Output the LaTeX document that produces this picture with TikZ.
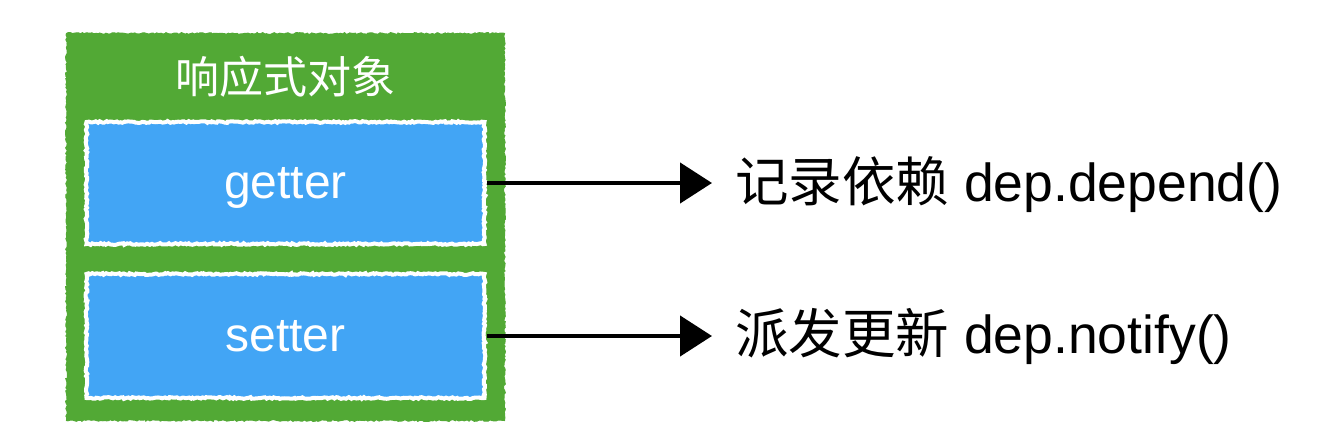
\documentclass[tikz,border=0pt]{standalone}
\usepackage{fontspec}
\setmainfont{Liberation Sans}
\newfontfamily\cjk{Noto Sans CJK SC}
\usetikzlibrary{arrows.meta,decorations.pathmorphing}
\definecolor{objgreen}{RGB}{82,169,53}
\definecolor{accblue}{RGB}{66,165,245}
\tikzset{
  rough/.style={decorate,decoration={random steps,segment length=2pt,amplitude=0.9pt}},
  objbox/.style={rough,fill=objgreen,draw=objgreen,line width=1pt,minimum width=438pt,minimum height=387pt,inner sep=0pt},
  accbox/.style={rough,fill=accblue,draw=white,line width=4pt,minimum width=398pt,minimum height=122pt,inner sep=0pt,
    text=white,text depth=0pt,font=\fontsize{48}{56}\selectfont},
  titletext/.style={text=white,font=\fontsize{44}{52}\selectfont\cjk,inner sep=0pt},
  labeltext/.style={anchor=west,inner sep=0pt,font=\fontsize{53.5}{60}\selectfont},
  conn/.style={line width=4.5pt,-{Triangle[length=32pt,width=40pt]}}
}
\begin{document}
\begin{tikzpicture}[x=1pt,y=-1pt]
\useasboundingbox (0,0) rectangle (1328,442);
\node[objbox] (obj) at (285.5,227) {};
\node[titletext] (title) at (285.5,77) {响应式对象};
\node[accbox] (getter) at (285.5,183) {getter};
\node[accbox,minimum height=124pt] (setter) at (285.5,336) {setter};
\node[labeltext] (dep1) at (735,185) {{\cjk 记录依赖} dep.depend()};
\node[labeltext] (dep2) at (735,336) {{\cjk 派发更新} dep.notify()};
\draw[conn] (getter.east) -- ([xshift=-23pt]dep1.west |- getter.east);
\draw[conn] (setter.east) -- ([xshift=-23pt]dep2.west |- setter.east);
\end{tikzpicture}
\end{document}
